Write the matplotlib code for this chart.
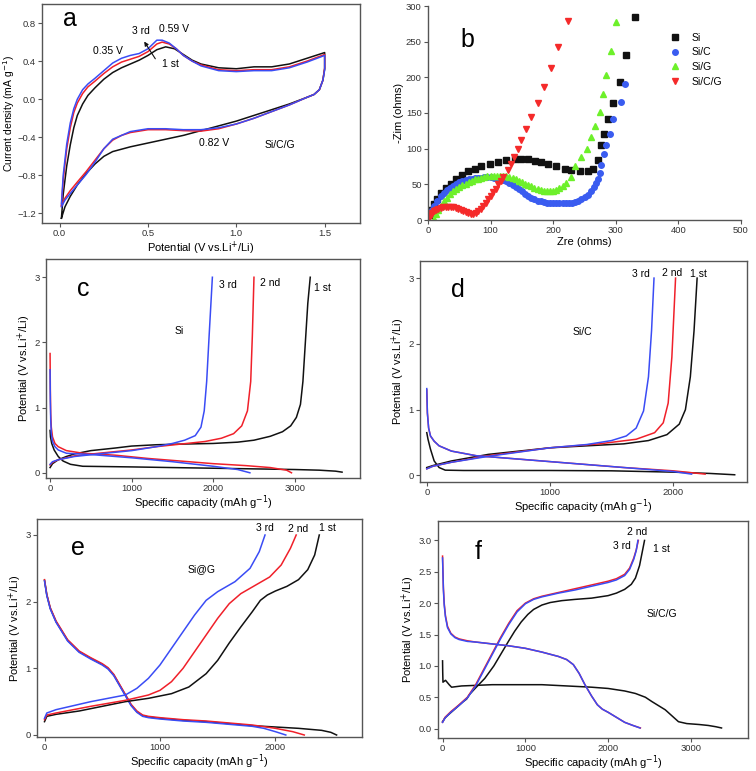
import numpy as np
import matplotlib
matplotlib.use("Agg")
import matplotlib.pyplot as plt

plt.rcParams['font.family'] = ['Liberation Sans', 'DejaVu Sans']
plt.rcParams['font.size'] = 7

# ---------------- panel a : CV curves of Si/C/G (V, mA g-1) ----------------
# each loop: anodic branch 0.01 -> 1.5 V, then cathodic branch 1.5 -> 0.01 V
cv1_v = [0.01, 0.02, 0.04, 0.06, 0.08, 0.1, 0.13, 0.16, 0.2, 0.25, 0.3, 0.35, 0.4, 0.45, 0.5, 0.55, 0.6, 0.65, 0.7, 0.75, 0.8, 0.9, 1.0, 1.05, 1.1, 1.2, 1.3, 1.4, 1.5,
         1.5, 1.49, 1.47, 1.44, 1.4, 1.3, 1.2, 1.1, 1.0, 0.9, 0.8, 0.7, 0.6, 0.5, 0.4, 0.3, 0.25, 0.2, 0.15, 0.1, 0.06, 0.03, 0.01]
cv1_i = [-1.25, -1.0, -0.7, -0.48, -0.3, -0.17, -0.05, 0.04, 0.12, 0.21, 0.28, 0.33, 0.37, 0.41, 0.46, 0.52, 0.55, 0.53, 0.47, 0.41, 0.37, 0.33, 0.32, 0.33, 0.34, 0.34, 0.37, 0.43, 0.49,
         0.32, 0.2, 0.1, 0.05, 0.02, -0.05, -0.11, -0.17, -0.23, -0.28, -0.33, -0.38, -0.42, -0.46, -0.5, -0.55, -0.6, -0.68, -0.78, -0.9, -1.02, -1.13, -1.25]
cv2_v = [0.01, 0.02, 0.04, 0.06, 0.08, 0.1, 0.13, 0.16, 0.2, 0.25, 0.3, 0.35, 0.4, 0.45, 0.5, 0.55, 0.58, 0.62, 0.66, 0.7, 0.75, 0.8, 0.9, 1.0, 1.1, 1.2, 1.3, 1.4, 1.5,
         1.5, 1.49, 1.47, 1.44, 1.4, 1.3, 1.2, 1.1, 1.0, 0.9, 0.8, 0.7, 0.6, 0.5, 0.4, 0.35, 0.3, 0.25, 0.2, 0.15, 0.1, 0.06, 0.03, 0.01]
cv2_i = [-1.12, -0.85, -0.52, -0.3, -0.14, -0.04, 0.06, 0.13, 0.19, 0.27, 0.34, 0.39, 0.42, 0.45, 0.5, 0.58, 0.6, 0.58, 0.53, 0.46, 0.4, 0.36, 0.31, 0.3, 0.31, 0.31, 0.34, 0.4, 0.47,
         0.33, 0.2, 0.1, 0.05, 0.02, -0.06, -0.13, -0.2, -0.26, -0.31, -0.335, -0.33, -0.32, -0.32, -0.35, -0.38, -0.43, -0.52, -0.64, -0.76, -0.87, -0.96, -1.04, -1.12]
cv3_v = [0.01, 0.02, 0.04, 0.06, 0.08, 0.1, 0.13, 0.16, 0.2, 0.25, 0.3, 0.35, 0.4, 0.45, 0.5, 0.55, 0.58, 0.62, 0.66, 0.7, 0.75, 0.8, 0.9, 1.0, 1.1, 1.2, 1.3, 1.4, 1.5,
         1.5, 1.49, 1.47, 1.44, 1.4, 1.3, 1.2, 1.1, 1.0, 0.9, 0.8, 0.7, 0.6, 0.5, 0.4, 0.3, 0.25, 0.2, 0.15, 0.1, 0.06, 0.03, 0.01]
cv3_i = [-1.1, -0.8, -0.47, -0.25, -0.1, 0.0, 0.1, 0.16, 0.22, 0.3, 0.38, 0.43, 0.46, 0.48, 0.53, 0.62, 0.62, 0.59, 0.53, 0.46, 0.4, 0.35, 0.3, 0.29, 0.3, 0.3, 0.33, 0.39, 0.46,
         0.31, 0.2, 0.1, 0.05, 0.02, -0.06, -0.13, -0.2, -0.26, -0.3, -0.32, -0.32, -0.31, -0.31, -0.34, -0.42, -0.52, -0.66, -0.79, -0.9, -0.99, -1.06, -1.13]

# ---------------- panel b : Nyquist plots (ohms) ----------------
si_re = [3, 5, 10, 15, 21, 29, 37, 45, 54, 64, 75, 85, 99, 112, 125, 139, 149, 160, 171, 181, 192, 205, 219, 229, 243, 255, 264, 271, 276, 281, 288, 296, 306, 316, 331]
si_im = [7, 14, 23, 30, 38, 45, 51, 57, 63, 68, 72, 76, 79, 82, 84, 85, 85, 85, 83, 82, 79, 76, 72, 70, 68, 68, 72, 84, 105, 121, 141, 164, 194, 231, 284]
sic_re = [3, 6, 10, 15, 20, 25, 30, 35, 40, 45, 50, 55, 60, 65, 70, 75, 80, 85, 90, 95, 100, 105, 110, 115, 120, 125, 130, 135, 140, 145, 150, 155, 160, 165, 170, 175, 180, 185, 190, 195, 200,
          205, 210, 215, 220, 225, 230, 235, 240, 245, 250, 255, 260, 265, 268, 271, 274, 277, 281, 285, 291, 296, 309, 314]
sic_im = [8, 14, 20, 27, 33, 38, 42, 45, 48, 51, 53, 55, 56, 57, 58, 58.5, 59, 59.5, 60, 60, 60, 59.5, 59, 58, 56, 54, 52, 49, 46, 43, 40, 37, 34, 31, 29, 27, 26, 25, 24, 24, 24,
          24, 24, 24, 24, 24, 24, 25, 27, 29, 32, 35, 40, 46, 52, 58, 66, 77, 93, 105, 121, 142, 165, 190]
sig_re = [10, 13, 16, 20, 25, 30, 35, 40, 45, 50, 55, 60, 65, 70, 75, 80, 85, 90, 95, 100, 105, 110, 115, 120, 125, 130, 135, 140, 145, 150, 155, 160, 165, 170, 175, 180, 185, 190,
          195, 200, 205, 210, 215, 220, 228, 235, 244, 254, 260, 267, 274, 280, 284, 292, 301]
sig_im = [2, 8, 14, 20, 26, 31, 36, 40, 43, 46, 49, 51, 53, 55, 57, 58, 59, 60, 61, 61, 62, 62, 62, 61, 61, 60, 59, 57, 55, 53, 51, 49, 47, 45, 43, 42, 41, 40,
          40, 41, 42, 45, 48, 52, 60, 76, 88, 100, 116, 132, 152, 176, 203, 237, 278]
sicg_re = [2, 4, 7, 10, 13, 16, 20, 24, 28, 32, 36, 40, 44, 48, 52, 56, 60, 64, 68, 72, 76, 80, 84, 88, 92, 96, 100, 104, 108, 112, 116, 120, 127, 132, 138, 144, 149, 157, 165, 175, 185, 196, 208, 223]
sicg_im = [3, 7, 10, 12.5, 14.5, 16, 17, 18, 18.5, 18.5, 18.5, 18, 17, 16, 14.5, 13, 11, 9.5, 8.5, 9, 10.5, 13, 16, 20, 24, 29, 34, 39, 44, 50, 55, 60, 70, 78, 89, 99, 112, 127, 144, 164, 186, 213, 243, 279]

# ---------------- panel c : Si (mAh g-1, V) ----------------
c1_dis_q = [0, 5, 20, 50, 100, 160, 250, 400, 700, 1000, 1500, 2000, 2500, 3000, 3300, 3500, 3580]
c1_dis_v = [0.65, 0.55, 0.45, 0.35, 0.25, 0.18, 0.13, 0.1, 0.095, 0.09, 0.08, 0.07, 0.06, 0.05, 0.04, 0.025, 0.01]
c1_ch_q = [0, 30, 100, 200, 300, 500, 800, 1000, 1300, 1600, 2000, 2300, 2500, 2700, 2850, 2950, 3020, 3070, 3100, 3130, 3160, 3190]
c1_ch_v = [0.08, 0.14, 0.2, 0.25, 0.29, 0.34, 0.38, 0.41, 0.43, 0.44, 0.45, 0.47, 0.5, 0.56, 0.63, 0.72, 0.85, 1.05, 1.4, 2.0, 2.6, 3.0]
c2_dis_q = [0, 3, 8, 15, 30, 60, 100, 200, 400, 800, 1200, 1600, 2000, 2400, 2700, 2900, 2960]
c2_dis_v = [1.83, 1.3, 0.9, 0.7, 0.55, 0.45, 0.4, 0.34, 0.3, 0.27, 0.22, 0.18, 0.14, 0.11, 0.08, 0.04, 0.0]
c2_ch_q = [0, 30, 100, 300, 600, 1000, 1300, 1600, 1900, 2100, 2250, 2350, 2420, 2460, 2480, 2500]
c2_ch_v = [0.12, 0.16, 0.2, 0.26, 0.3, 0.35, 0.4, 0.44, 0.48, 0.53, 0.6, 0.72, 0.95, 1.4, 2.1, 3.0]
c3_dis_q = [0, 3, 8, 15, 30, 60, 100, 200, 500, 1000, 1500, 2000, 2300, 2450]
c3_dis_v = [1.58, 1.1, 0.8, 0.6, 0.48, 0.4, 0.35, 0.3, 0.28, 0.23, 0.17, 0.1, 0.05, 0.0]
c3_ch_q = [0, 30, 100, 300, 600, 1000, 1300, 1500, 1650, 1780, 1850, 1890, 1920, 1950, 1990]
c3_ch_v = [0.13, 0.17, 0.2, 0.25, 0.29, 0.34, 0.4, 0.45, 0.5, 0.57, 0.7, 0.95, 1.4, 2.1, 3.0]

# ---------------- panel d : Si/C ----------------
d1_dis_q = [0, 10, 30, 60, 100, 150, 300, 600, 1000, 1500, 2000, 2300, 2500]
d1_dis_v = [0.65, 0.55, 0.4, 0.22, 0.12, 0.08, 0.075, 0.075, 0.075, 0.07, 0.05, 0.03, 0.01]
d1_ch_q = [0, 50, 200, 500, 800, 1000, 1300, 1600, 1800, 1950, 2050, 2100, 2140, 2170, 2195]
d1_ch_v = [0.12, 0.15, 0.22, 0.32, 0.38, 0.42, 0.45, 0.48, 0.53, 0.62, 0.78, 1.0, 1.5, 2.2, 3.0]
d2_dis_q = [0, 5, 15, 30, 60, 100, 200, 400, 800, 1200, 1600, 2000, 2260]
d2_dis_v = [1.3, 0.95, 0.72, 0.6, 0.52, 0.45, 0.37, 0.3, 0.24, 0.18, 0.12, 0.07, 0.02]
d2_ch_q = [0, 50, 200, 500, 1000, 1400, 1700, 1850, 1920, 1960, 1990, 2020]
d2_ch_v = [0.1, 0.14, 0.2, 0.3, 0.42, 0.48, 0.55, 0.65, 0.8, 1.1, 1.8, 3.0]
d3_dis_q = [0, 5, 15, 30, 60, 100, 200, 400, 800, 1200, 1600, 2000, 2150]
d3_dis_v = [1.32, 0.95, 0.72, 0.6, 0.52, 0.45, 0.37, 0.3, 0.24, 0.18, 0.12, 0.06, 0.02]
d3_ch_q = [0, 50, 200, 500, 1000, 1300, 1500, 1620, 1700, 1760, 1800, 1825, 1845]
d3_ch_v = [0.1, 0.14, 0.2, 0.29, 0.42, 0.47, 0.53, 0.6, 0.72, 0.98, 1.5, 2.2, 3.0]

# ---------------- panel e : Si@G ----------------
e_dis_q = [0, 20, 50, 100, 200, 300, 400, 500, 550, 600, 650, 700, 750, 800, 850, 900, 1000, 1200, 1400, 1600, 1800]
e_dis_v = [2.32, 2.1, 1.9, 1.7, 1.42, 1.25, 1.15, 1.06, 1.0, 0.9, 0.75, 0.6, 0.45, 0.35, 0.29, 0.27, 0.25, 0.22, 0.2, 0.17, 0.14]
e1_tail_q = [2000, 2200, 2400, 2480, 2530]
e1_tail_v = [0.12, 0.1, 0.07, 0.04, 0.0]
e2_tail_q = [2000, 2150, 2250]
e2_tail_v = [0.1, 0.05, 0.0]
e3_tail_q = [1900, 2000, 2090]
e3_tail_v = [0.1, 0.05, 0.0]
e1_ch_q = [0, 20, 100, 300, 500, 700, 900, 1100, 1250, 1400, 1500, 1600, 1700, 1800, 1870, 1930, 2000, 2100, 2200, 2280, 2340, 2380]
e1_ch_v = [0.2, 0.28, 0.31, 0.36, 0.43, 0.5, 0.55, 0.62, 0.72, 0.92, 1.12, 1.38, 1.62, 1.85, 2.02, 2.1, 2.16, 2.23, 2.33, 2.48, 2.7, 3.0]
e2_ch_q = [0, 20, 100, 400, 700, 900, 1000, 1100, 1200, 1300, 1400, 1500, 1600, 1700, 1800, 1950, 2050, 2130, 2180]
e2_ch_v = [0.23, 0.3, 0.33, 0.43, 0.52, 0.6, 0.67, 0.8, 1.0, 1.25, 1.5, 1.75, 1.97, 2.12, 2.22, 2.37, 2.55, 2.8, 3.0]
e3_ch_q = [0, 20, 100, 400, 700, 800, 900, 1000, 1100, 1200, 1300, 1400, 1500, 1650, 1780, 1860, 1910]
e3_ch_v = [0.25, 0.33, 0.38, 0.5, 0.6, 0.7, 0.85, 1.05, 1.3, 1.55, 1.8, 2.02, 2.15, 2.3, 2.5, 2.75, 3.0]

# ---------------- panel f : Si/C/G ----------------
f1_dis_q = [0, 2, 5, 36, 80, 109, 230, 600, 1200, 1800, 2000, 2200, 2330, 2450, 2530, 2690, 2850, 2950, 3100, 3210, 3300, 3370]
f1_dis_v = [1.08, 0.9, 0.74, 0.77, 0.7, 0.66, 0.68, 0.7, 0.7, 0.66, 0.64, 0.6, 0.56, 0.5, 0.43, 0.3, 0.11, 0.08, 0.065, 0.05, 0.03, 0.01]
f1_ch_q = [0, 30, 70, 130, 190, 250, 290, 330, 400, 510, 620, 710, 800, 870, 950, 1030, 1100, 1200, 1300, 1440, 1600, 1800, 2000, 2100, 2200, 2280, 2330, 2380, 2410, 2440]
f1_ch_v = [0.11, 0.17, 0.22, 0.29, 0.36, 0.43, 0.47, 0.55, 0.65, 0.8, 1.0, 1.2, 1.4, 1.55, 1.7, 1.82, 1.9, 1.97, 2.01, 2.04, 2.06, 2.08, 2.12, 2.16, 2.22, 2.3, 2.4, 2.6, 2.8, 3.0]
f2_dis_q = [0, 5, 10, 20, 35, 60, 100, 150, 200, 300, 400, 600, 800, 1000, 1200, 1400, 1500, 1580, 1650, 1720, 1800, 1870, 1930, 2000, 2100, 2200, 2300, 2390]
f2_dis_v = [2.75, 2.5, 2.25, 2.0, 1.8, 1.63, 1.52, 1.46, 1.43, 1.4, 1.38, 1.35, 1.32, 1.28, 1.22, 1.15, 1.1, 1.02, 0.88, 0.7, 0.52, 0.38, 0.31, 0.26, 0.18, 0.1, 0.05, 0.01]
f2_ch_q = [0, 30, 100, 200, 300, 400, 500, 600, 700, 800, 900, 1000, 1100, 1200, 1400, 1600, 1800, 2000, 2100, 2200, 2260, 2310, 2340, 2365]
f2_ch_v = [0.1, 0.18, 0.27, 0.38, 0.5, 0.7, 0.95, 1.2, 1.45, 1.68, 1.88, 2.0, 2.07, 2.11, 2.17, 2.23, 2.29, 2.35, 2.39, 2.46, 2.56, 2.72, 2.85, 3.0]
f3_dis_q = [0, 5, 10, 20, 35, 60, 100, 150, 200, 300, 400, 600, 800, 1000, 1200, 1400, 1500, 1580, 1650, 1720, 1800, 1870, 1930, 2000, 2100, 2200, 2300, 2385]
f3_dis_v = [2.72, 2.47, 2.22, 1.97, 1.78, 1.61, 1.51, 1.45, 1.42, 1.39, 1.38, 1.35, 1.32, 1.28, 1.22, 1.15, 1.1, 1.02, 0.88, 0.7, 0.52, 0.38, 0.31, 0.26, 0.18, 0.1, 0.05, 0.01]
f3_ch_q = [0, 30, 100, 200, 300, 400, 500, 600, 700, 800, 900, 1000, 1100, 1200, 1400, 1600, 1800, 2000, 2100, 2200, 2260, 2310, 2340, 2360]
f3_ch_v = [0.1, 0.17, 0.26, 0.37, 0.49, 0.68, 0.93, 1.18, 1.43, 1.66, 1.86, 1.99, 2.06, 2.1, 2.16, 2.21, 2.27, 2.33, 2.37, 2.44, 2.54, 2.7, 2.84, 3.0]

BLACK = '#111111'
RED = '#f0202a'
BLUE = '#3a4cf5'
SPINE = '#555555'

W, H = 756, 771
fig = plt.figure(figsize=(W / 100, H / 100), dpi=100)


def box(l, r, t, b):
    return [l / W, 1 - b / H, (r - l) / W, (b - t) / H]


def style(ax, top_right=True):
    for s in ax.spines.values():
        s.set_color(SPINE)
        s.set_linewidth(1.0)
    if not top_right:
        ax.spines['top'].set_visible(False)
        ax.spines['right'].set_visible(False)
    ax.tick_params(direction='out', length=3, width=0.8, color=SPINE,
                   labelsize=6.8, labelcolor='#333333', pad=1.5)


lw = 1.1
cap_label = 'Specific capacity (mAh g$^{-1}$)'
pot_label = 'Potential (V vs.Li$^{+}$/Li)'

# ---- a ----
ax = fig.add_axes(box(42, 360, 4, 223))
ax.plot(cv1_v, cv1_i, color=BLACK, lw=lw)
ax.plot(cv2_v, cv2_i, color=RED, lw=lw)
ax.plot(cv3_v, cv3_i, color=BLUE, lw=lw)
ax.set_xlim(-0.1, 1.7)
ax.set_ylim(-1.3, 1.0)
ax.set_xticks([0, 0.5, 1.0, 1.5])
ax.set_xticklabels(['0.0', '0.5', '1.0', '1.5'])
ax.set_yticks([-1.2, -0.8, -0.4, 0.0, 0.4, 0.8])
ax.set_xlabel(pot_label, fontsize=8, labelpad=1)
ax.set_ylabel('Current density (mA g$^{-1}$)', fontsize=7.5, labelpad=0)
style(ax)
ax.text(0.02, 0.77, 'a', fontsize=18)
ax.text(0.41, 0.69, '3 rd', fontsize=7.5)
ax.text(0.56, 0.71, '0.59 V', fontsize=7.5)
ax.text(0.19, 0.48, '0.35 V', fontsize=7.5)
ax.text(0.58, 0.34, '1 st', fontsize=7.5)
ax.annotate('', xy=(0.47, 0.63), xytext=(0.55, 0.40),
            arrowprops=dict(arrowstyle='-|>', color=BLACK, lw=0.8, mutation_scale=6))
ax.text(0.79, -0.49, '0.82 V', fontsize=7.5)
ax.text(1.16, -0.51, 'Si/C/G', fontsize=7.5)

# ---- b ----
ax = fig.add_axes(box(428, 741, 6, 220))
ms = 4
ax.plot(si_re, si_im, 's', color=BLACK, ms=ms, label='Si')
ax.plot(sic_re, sic_im, 'o', color='#3a5cf0', ms=ms, label='Si/C')
ax.plot(sig_re, sig_im, '^', color='#6df02a', ms=ms, label='Si/G')
ax.plot(sicg_re, sicg_im, 'v', color='#f52a2a', ms=ms, label='Si/C/G')
ax.set_xlim(0, 500)
ax.set_ylim(0, 300)
ax.set_xticks(range(0, 501, 100))
ax.set_yticks(range(0, 301, 50))
ax.set_xlabel('Zre (ohms)', fontsize=8, labelpad=1)
ax.set_ylabel('-Zim (ohms)', fontsize=8, labelpad=1)
style(ax, top_right=False)
ax.legend(loc='upper left', bbox_to_anchor=(0.74, 0.9), frameon=False,
          fontsize=7.5, handletextpad=0.6, labelspacing=0.45, borderpad=0)
ax.text(52, 243, 'b', fontsize=18)

# ---- c ----
ax = fig.add_axes(box(46, 360, 259, 478))
ax.plot(c1_dis_q, c1_dis_v, color=BLACK, lw=lw)
ax.plot(c1_ch_q, c1_ch_v, color=BLACK, lw=lw)
ax.plot(c2_dis_q, c2_dis_v, color=RED, lw=lw)
ax.plot(c2_ch_q, c2_ch_v, color=RED, lw=lw)
ax.plot(c3_dis_q, c3_dis_v, color=BLUE, lw=lw)
ax.plot(c3_ch_q, c3_ch_v, color=BLUE, lw=lw)
ax.set_xlim(-50, 3800)
ax.set_ylim(-0.08, 3.28)
ax.set_xticks([0, 1000, 2000, 3000])
ax.set_yticks([0, 1, 2, 3])
ax.set_xlabel(cap_label, fontsize=8, labelpad=0)
ax.set_ylabel(pot_label, fontsize=8, labelpad=1)
style(ax)
ax.text(330, 2.72, 'c', fontsize=18)
ax.text(2070, 2.84, '3 rd', fontsize=7.5)
ax.text(2570, 2.86, '2 nd', fontsize=7.5)
ax.text(3230, 2.79, '1 st', fontsize=7.5)
ax.text(1530, 2.13, 'Si', fontsize=7.5)

# ---- d ----
ax = fig.add_axes(box(420, 747, 261, 482))
ax.plot(d1_dis_q, d1_dis_v, color=BLACK, lw=lw)
ax.plot(d1_ch_q, d1_ch_v, color=BLACK, lw=lw)
ax.plot(d2_dis_q, d2_dis_v, color=RED, lw=lw)
ax.plot(d2_ch_q, d2_ch_v, color=RED, lw=lw)
ax.plot(d3_dis_q, d3_dis_v, color=BLUE, lw=lw)
ax.plot(d3_ch_q, d3_ch_v, color=BLUE, lw=lw)
ax.set_xlim(-55, 2600)
ax.set_ylim(-0.1, 3.26)
ax.set_xticks([0, 1000, 2000])
ax.set_yticks([0, 1, 2, 3])
ax.set_xlabel(cap_label, fontsize=8, labelpad=0)
ax.set_ylabel(pot_label, fontsize=8, labelpad=1)
style(ax)
ax.text(200, 2.72, 'd', fontsize=18)
ax.text(1670, 3.02, '3 rd', fontsize=7.5)
ax.text(1910, 3.03, '2 nd', fontsize=7.5)
ax.text(2140, 3.02, '1 st', fontsize=7.5)
ax.text(1180, 2.14, 'Si/C', fontsize=7.5)

# ---- e ----
ax = fig.add_axes(box(37, 362, 519, 737))
ax.plot(e_dis_q + e1_tail_q, e_dis_v + e1_tail_v, color=BLACK, lw=lw)
ax.plot(e_dis_q + e2_tail_q, [v + 0.01 for v in e_dis_v] + e2_tail_v, color=RED, lw=lw)
ax.plot(e_dis_q + e3_tail_q, [v - 0.01 for v in e_dis_v] + e3_tail_v, color=BLUE, lw=lw)
ax.plot(e1_ch_q, e1_ch_v, color=BLACK, lw=lw)
ax.plot(e2_ch_q, e2_ch_v, color=RED, lw=lw)
ax.plot(e3_ch_q, e3_ch_v, color=BLUE, lw=lw)
ax.set_xlim(-65, 2750)
ax.set_ylim(-0.03, 3.24)
ax.set_xticks([0, 1000, 2000])
ax.set_yticks([0, 1, 2, 3])
ax.set_xlabel(cap_label, fontsize=8, labelpad=0)
ax.set_ylabel(pot_label, fontsize=8, labelpad=1)
style(ax)
ax.text(230, 2.7, 'e', fontsize=18)
ax.text(1830, 3.06, '3 rd', fontsize=7.5)
ax.text(2110, 3.05, '2 nd', fontsize=7.5)
ax.text(2380, 3.06, '1 st', fontsize=7.5)
ax.text(1240, 2.45, 'Si@G', fontsize=7.5)

# ---- f ----
ax = fig.add_axes(box(438, 748, 521, 738))
ax.plot(f1_dis_q, f1_dis_v, color=BLACK, lw=lw)
ax.plot(f1_ch_q, f1_ch_v, color=BLACK, lw=lw)
ax.plot(f2_dis_q, f2_dis_v, color=RED, lw=lw)
ax.plot(f2_ch_q, f2_ch_v, color=RED, lw=lw)
ax.plot(f3_dis_q, f3_dis_v, color=BLUE, lw=lw)
ax.plot(f3_ch_q, f3_ch_v, color=BLUE, lw=lw)
ax.set_xlim(-55, 3690)
ax.set_ylim(-0.15, 3.31)
ax.set_xticks([0, 1000, 2000, 3000])
ax.set_yticks(np.arange(0, 3.01, 0.5))
ax.set_yticklabels(['0.0', '0.5', '1.0', '1.5', '2.0', '2.5', '3.0'])
ax.set_xlabel(cap_label, fontsize=8, labelpad=0)
ax.set_ylabel(pot_label, fontsize=8, labelpad=1)
style(ax)
ax.text(390, 2.7, 'f', fontsize=18)
ax.text(2230, 3.09, '2 nd', fontsize=7.5)
ax.text(2060, 2.86, '3 rd', fontsize=7.5)
ax.text(2540, 2.82, '1 st', fontsize=7.5)
ax.text(2470, 1.78, 'Si/C/G', fontsize=7.5)

fig.savefig('out.png', dpi=100)
